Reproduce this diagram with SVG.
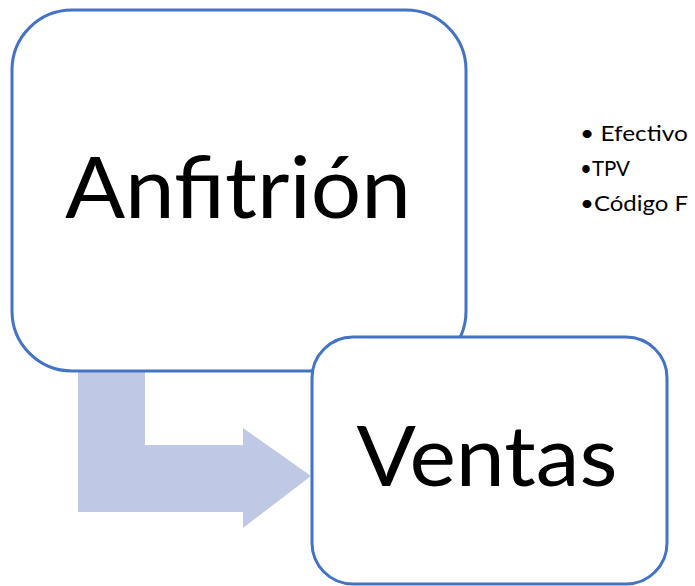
<svg xmlns="http://www.w3.org/2000/svg" width="695" height="586" viewBox="0 0 695 586">
  <style>
    .box { fill: #FFFFFF; stroke: #4472C4; stroke-width: 3; }
    .big { font-family: Lato, "Open Sans", "Liberation Sans", sans-serif; fill: #000000; text-anchor: middle; }
    .bul { font-family: Lato, "Open Sans", "Liberation Sans", sans-serif; font-size: 22px; fill: #000000; }
    .flow { fill: #BFC9E5; stroke: none; }
  </style>
  <rect x="0" y="0" width="695" height="586" fill="#FFFFFF"/>
  <g id="connectors">
    <polygon class="flow" points="78,370 145,370 145,445 243,445 243,428 311,476 243,528 243,512 78,512"/>
  </g>
  <g id="node-anfitrion">
    <rect class="box" x="12" y="10" width="454" height="361" rx="60" ry="60"/>
    <text class="big" x="238" y="218" font-size="86" textLength="346" lengthAdjust="spacingAndGlyphs">Anfitrión</text>
  </g>
  <g id="node-ventas">
    <rect class="box" x="312" y="337" width="355" height="247" rx="41" ry="41"/>
    <text class="big" x="487" y="486" font-size="84" textLength="261" lengthAdjust="spacingAndGlyphs">Ventas</text>
  </g>
  <g id="node-list">
    <text class="bul" x="580" y="141" textLength="108" lengthAdjust="spacingAndGlyphs">• Efectivo</text>
    <text class="bul" x="580" y="176" textLength="50" lengthAdjust="spacingAndGlyphs">•TPV</text>
    <text class="bul" x="580" y="211" textLength="108" lengthAdjust="spacingAndGlyphs">•Código F</text>
  </g>
</svg>
